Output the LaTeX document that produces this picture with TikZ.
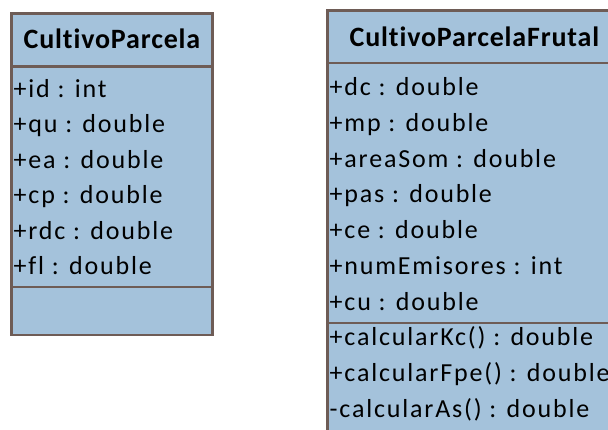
\documentclass[tikz,border=0pt]{standalone}
\usepackage{fontspec}
\setmainfont{Carlito}[Ligatures=NoCommon]
\newfontfamily\memberfont{Carlito}[Ligatures=NoCommon, LetterSpace=7]
\newfontfamily\titlefont{Carlito}[Ligatures=NoCommon, LetterSpace=3]
\begin{document}
\begin{tikzpicture}[x=1pt,y=-1pt,
  classbox/.style={draw=umlborder, fill=umlfill, line width=2.6pt},
  divider/.style={draw=umlborder, line width=2.6pt},
  title/.style={anchor=base, inner sep=0pt, font=\titlefont\fontsize{28}{32}\selectfont\bfseries},
  member/.style={anchor=base west, inner sep=0pt, font=\memberfont\fontsize{26}{30}\selectfont}]
\definecolor{umlfill}{RGB}{164,194,219}
\definecolor{umlborder}{RGB}{110,92,86}
\useasboundingbox (0,0) rectangle (608,430);
\clip (0,0) rectangle (608,430);

% CultivoParcela
\draw[classbox] (11.5,13.5) rectangle (212.5,335);
\draw[divider] (11.5,66.7) -- (212.5,66.7);
\draw[divider] (11.5,287) -- (212.5,287);
\node[title] (cpTitle) at (112,48.3) {CultivoParcela};
\foreach \t [count=\i from 0] in {+id : int,+qu : double,+ea : double,+cp : double,+rdc : double,+fl : double}
  \node[member] (cpAttr\i) at (13.5,97.3+35.5*\i) {\t};

% CultivoParcelaFrutal
\draw[classbox] (327.5,10.7) rectangle (621.5,445);
\draw[divider] (327.5,63) -- (621.5,63);
\draw[divider] (327.5,323) -- (621.5,323);
\node[title] (cpfTitle) at (474.5,46.7) {CultivoParcelaFrutal};
\foreach \t [count=\i from 0] in {+dc : double,+mp : double,+areaSom : double,+pas : double,+ce : double,+numEmisores : int,+cu : double}
  \node[member] (cpfAttr\i) at (329.5,95.5+35.8*\i) {\t};
\foreach \t [count=\i from 0] in {+calcularKc() : double,+calcularFpe() : double,-calcularAs() : double}
  \node[member] (cpfOp\i) at (329.5,346+35.8*\i) {\t};
\end{tikzpicture}
\end{document}
